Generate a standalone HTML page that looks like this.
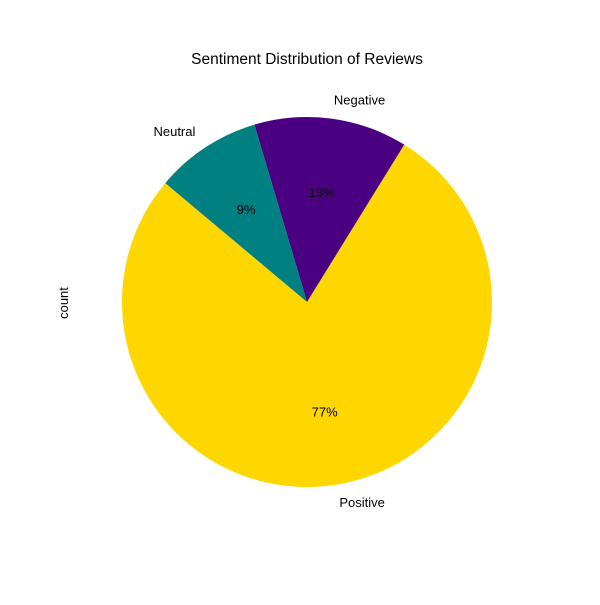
<!DOCTYPE html>
<html><head><meta charset="utf-8"><style>
body{margin:0;background:#fff}
svg{font-family:"Liberation Sans","DejaVu Sans",sans-serif}
</style></head><body>
<svg id="chart" width="600" height="600">
<rect width="600" height="600" fill="#fff"/>
<text x="307" y="64" text-anchor="middle" font-size="15.5">Sentiment Distribution of Reviews</text>
<text transform="translate(68,303) rotate(-90)" text-anchor="middle" font-size="13">count</text>
<g id="slices"></g>
</svg>
<script>
const categories = ["Positive", "Negative", "Neutral"];
const values = [77.3, 13.4, 9.3];
const colors = ["#FFD700", "#4B0082", "#008080"];
const cx = 307, cy = 302, R = 185, startAngle = 140;
const ns = "http://www.w3.org/2000/svg";
const g = document.getElementById("slices");
const total = values.reduce((a, b) => a + b, 0);
let a0 = startAngle;
function pt(deg, r) { const t = deg * Math.PI / 180; return [cx + r * Math.cos(t), cy - r * Math.sin(t)]; }
values.forEach((v, i) => {
  const sweep = v / total * 360;
  const a1 = a0 + sweep;
  const p0 = pt(a0, R), p1 = pt(a1, R);
  const path = document.createElementNS(ns, "path");
  path.setAttribute("d", `M${cx},${cy} L${p0[0]},${p0[1]} A${R},${R} 0 ${sweep > 180 ? 1 : 0} 0 ${p1[0]},${p1[1]} Z`);
  path.setAttribute("fill", colors[i]);
  
  
  g.appendChild(path);
  const mid = a0 + sweep / 2;
  const lp = pt(mid, R * 1.1);
  const lab = document.createElementNS(ns, "text");
  lab.setAttribute("x", lp[0]); lab.setAttribute("y", lp[1] + 4);
  lab.setAttribute("font-size", "13");
  lab.setAttribute("text-anchor", Math.cos(mid * Math.PI / 180) >= 0 ? "start" : "end");
  lab.textContent = categories[i];
  
  
  g.appendChild(lab);
  const pp = pt(mid, R * 0.6);
  const pc = document.createElementNS(ns, "text");
  pc.setAttribute("x", pp[0]); pc.setAttribute("y", pp[1] + 5);
  pc.setAttribute("font-size", "13");
  pc.setAttribute("text-anchor", "middle");
  pc.textContent = Math.round(v / total * 100) + "%";
  
  
  g.appendChild(pc);
  a0 = a1;
});
</script>
</body></html>
